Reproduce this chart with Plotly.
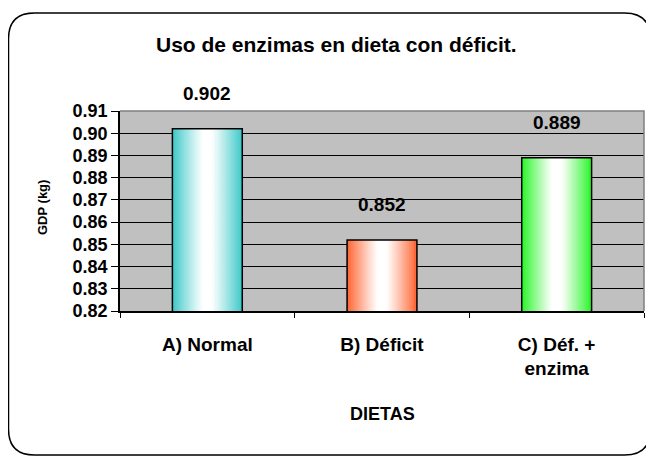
import plotly.graph_objects as go

# ---- data ----
categories = ["A) Normal", "B) Déficit", "C) Déf. +<br>enzima"]
values = [0.902, 0.852, 0.889]
y_ticks = [0.82, 0.83, 0.84, 0.85, 0.86, 0.87, 0.88, 0.89, 0.90, 0.91]
title_text = "Uso de enzimas en dieta con déficit."
x_title = "DIETAS"
y_title = "GDP (kg)"

# ---- styles ----
edge_colors = [(60, 200, 200), (255, 100, 50), (40, 245, 40)]
FONT = "Liberation Sans, Arial, sans-serif"
OFF = 8                      # browser body margin
W, H = 654 - OFF, 458 - OFF
# plot area in page pixels: x 120..644, y 111..311
PL, PR, PT, PB = 120, 644, 111, 311
L, T = PL - OFF, PT - OFF
R = W - (PR - OFF)
B = H - (PB - OFF)
PW, PH = PR - PL, PB - PT
bar_w = 0.4
N = 36


def px(x):  # page pixel -> paper
    return (x - PL) / PW


def py(y):
    return (PB - y) / PH


def grad(edge, t):
    d = abs(t - 0.5) * 2
    f = max(0.0, (d - 0.12) / 0.88) ** 1.1
    r, g, b = [int(round(255 + (c - 255) * f)) for c in edge]
    return f"rgb({r},{g},{b})"


fig = go.Figure()
step = bar_w / N
for i in range(N):
    t = (i + 0.5) / N
    fig.add_trace(go.Bar(
        x=categories, y=values,
        width=step * (1.4 if i < N - 1 else 1.0),
        offset=-bar_w / 2 + i * step,
        marker=dict(color=[grad(e, t) for e in edge_colors], line=dict(width=0)),
        hoverinfo="skip", showlegend=False,
    ))
fig.add_trace(go.Bar(
    x=categories, y=values, width=bar_w, offset=-bar_w / 2,
    marker=dict(color="rgba(0,0,0,0)", line=dict(color="black", width=1.5)),
    showlegend=False,
))

for c, v in zip(categories, values):
    fig.add_annotation(x=c, y=v, text=f"{v:.3f}", showarrow=False,
                       yanchor="bottom", yshift=23,
                       font=dict(family=FONT, size=19, color="black", weight="bold"))

# titles
fig.add_annotation(xref="paper", yref="paper", x=px(336), y=py(45), text=title_text,
                   showarrow=False, xanchor="center", yanchor="middle",
                   font=dict(family=FONT, size=21, color="black", weight="bold"))
fig.add_annotation(xref="paper", yref="paper", x=px(382), y=py(414), text=x_title,
                   showarrow=False, xanchor="center", yanchor="middle",
                   font=dict(family=FONT, size=18, color="black", weight="bold"))
fig.add_annotation(xref="paper", yref="paper", x=px(42), y=py(208), text=y_title,
                   showarrow=False, xanchor="center", yanchor="middle", textangle=-90,
                   font=dict(family=FONT, size=13, color="black", weight="bold"))

# rounded frame (page pixels)
x0, x1, y0, y1, r = 8.5, 650.5, 13, 455, 26
path = (f"M {px(x0+r)},{py(y0)} L {px(x1-r)},{py(y0)} "
        f"Q {px(x1)},{py(y0)} {px(x1)},{py(y0+r)} "
        f"L {px(x1)},{py(y1-r)} Q {px(x1)},{py(y1)} {px(x1-r)},{py(y1)} "
        f"L {px(x0+r)},{py(y1)} Q {px(x0)},{py(y1)} {px(x0)},{py(y1-r)} "
        f"L {px(x0)},{py(y0+r)} Q {px(x0)},{py(y0)} {px(x0+r)},{py(y0)} Z")
fig.add_shape(type="path", xref="paper", yref="paper", path=path,
              line=dict(color="black", width=1.5), layer="above")
# plot-area top/right border (gray)
fig.add_shape(type="path", xref="paper", yref="paper",
              path="M 0,1 L 1,1 L 1,0", line=dict(color="#808080", width=1.5), layer="above")

fig.update_layout(
    width=W, height=H,
    margin=dict(l=L, r=R, t=T, b=B),
    paper_bgcolor="white", plot_bgcolor="#C0C0C0",
    barmode="overlay", bargap=0.6,
    font=dict(family=FONT, color="black"),
)
fig.update_yaxes(
    range=[0.82, 0.91], tickvals=y_ticks, tickformat=".2f",
    showgrid=True, gridcolor="black", gridwidth=1,
    showline=True, linecolor="black", linewidth=1.5,
    ticks="outside", ticklen=7, tickcolor="black",
    tickfont=dict(family=FONT, size=18, weight="bold"),
    zeroline=False, fixedrange=True,
)
fig.update_xaxes(
    showgrid=False, showline=True, linecolor="black", linewidth=1.5,
    ticks="outside", ticklen=5, tickcolor="black", tickson="boundaries",
    tickfont=dict(family=FONT, size=19, weight="bold"),
    ticklabelstandoff=15, fixedrange=True,
)

fig.write_html("out.html")
